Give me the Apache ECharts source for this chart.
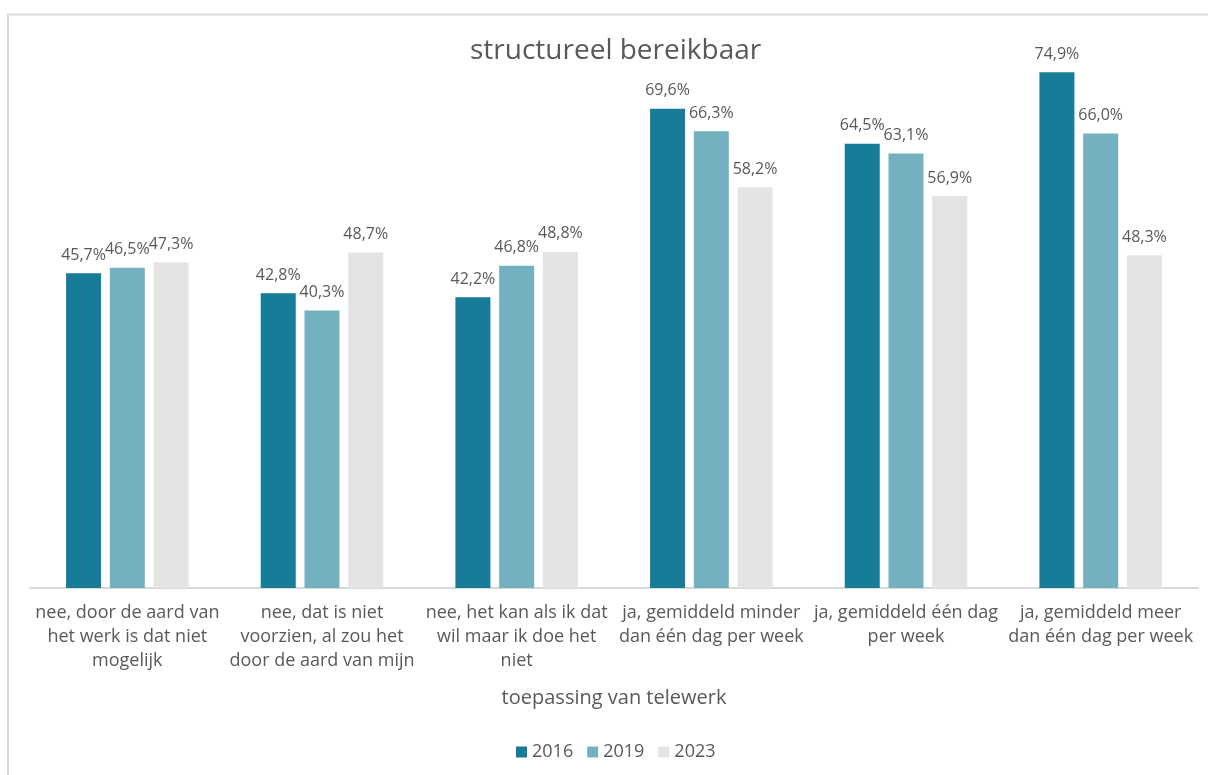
<!DOCTYPE html>
<html>
<head>
<meta charset="utf-8">
<script src="https://cdn.jsdelivr.net/npm/echarts@6/dist/echarts.min.js"></script>
<style>
  html, body { margin: 0; padding: 0; background: #fff; }
  #chart { width: 1208px; height: 775px; }
</style>
</head>
<body>
<div id="chart"></div>
<script>
// Categories: answers to "toepassing van telewerk"
const categories = [
  'nee, door de aard van\nhet werk is dat niet\nmogelijk',
  'nee, dat is niet\nvoorzien, al zou het\ndoor de aard van mijn',
  'nee, het kan als ik dat\nwil maar ik doe het\nniet',
  'ja, gemiddeld minder\ndan één dag per week',
  'ja, gemiddeld één dag\nper week',
  'ja, gemiddeld meer\ndan één dag per week'
];
const years = ['2016', '2019', '2023'];
const values2016 = [45.7, 42.8, 42.2, 69.6, 64.5, 74.9];
const values2019 = [46.5, 40.3, 46.8, 66.3, 63.1, 66.0];
const values2023 = [47.3, 48.7, 48.8, 58.2, 56.9, 48.3];
const colors = ['#167c97', '#73b1c0', '#e4e4e4'];

const font = 'Open Sans';
const textColor = '#595959';

function makeSeries(name, data, color) {
  return {
    name: name,
    type: 'bar',
    data: data,
    barWidth: 35,
    barGap: '25%',
    itemStyle: { color: color },
    label: {
      show: true,
      position: 'top',
      distance: 10,
      fontFamily: font,
      fontSize: 16,
      color: textColor,
      formatter: p => p.value.toFixed(1).replace('.', ',') + '%'
    }
  };
}

const chart = echarts.init(document.getElementById('chart'));
chart.setOption({
  animation: false,
  backgroundColor: '#fff',
  title: {
    text: 'structureel bereikbaar',
    left: 465,
    top: 32,
    textStyle: { fontFamily: font, fontSize: 28, fontWeight: 'normal', color: textColor }
  },
  graphic: [{
    type: 'rect',
    shape: { x: 8, y: 14.5, width: 1400, height: 900 },
    style: { fill: 'none', stroke: '#d9d9d9', lineWidth: 2 },
    silent: true,
    z: -1
  }],
  legend: {
    bottom: 9,
    left: 511,
    itemWidth: 11,
    itemHeight: 11,
    itemGap: 14,
    icon: 'rect',
    textStyle: { fontFamily: font, fontSize: 18, color: textColor },
    data: years
  },
  grid: { left: 30, right: 10, top: 37, bottom: 187 },
  xAxis: {
    type: 'category',
    data: categories,
    name: 'toepassing van telewerk',
    nameLocation: 'middle',
    nameGap: 100,
    nameTextStyle: { fontFamily: font, fontSize: 20, color: textColor },
    axisLine: { lineStyle: { color: '#d9d9d9', width: 2 } },
    axisTick: { show: false },
    axisLabel: {
      interval: 0,
      margin: 13,
      fontFamily: font,
      fontSize: 18,
      lineHeight: 24,
      color: textColor,
      align: 'center'
    }
  },
  yAxis: {
    type: 'value',
    min: 0,
    max: 80,
    show: false,
    splitLine: { show: false }
  },
  series: [
    makeSeries(years[0], values2016, colors[0]),
    makeSeries(years[1], values2019, colors[1]),
    makeSeries(years[2], values2023, colors[2])
  ]
});
</script>
</body>
</html>
